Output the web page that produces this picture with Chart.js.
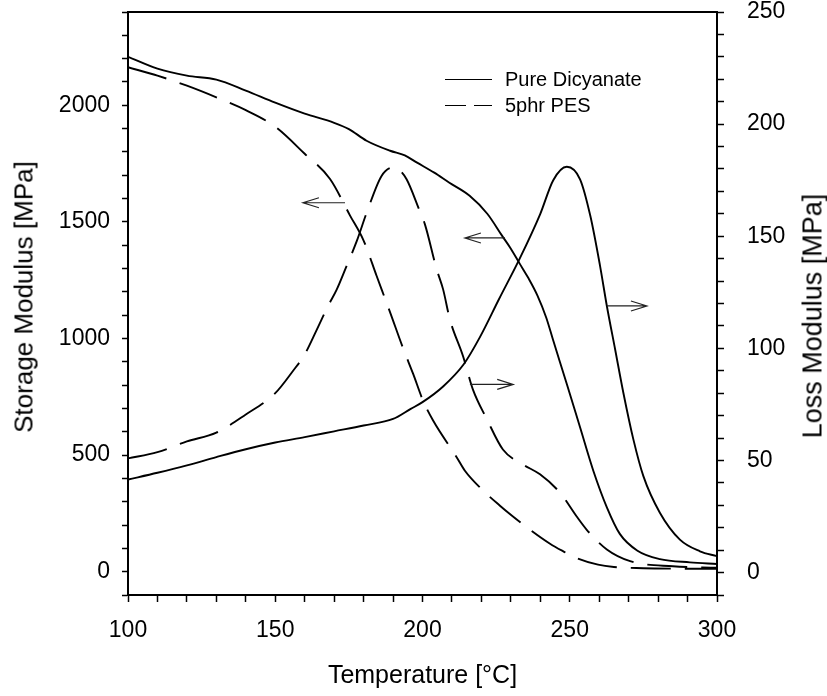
<!DOCTYPE html>
<html>
<head>
<meta charset="utf-8">
<script src="https://cdn.jsdelivr.net/npm/chart.js@4.4.1/dist/chart.umd.min.js"></script>
<style>
  body { margin: 0; background: #fff; }
  #wrap { position: relative; width: 827px; height: 696px; font-family: "Liberation Sans", Arial, sans-serif; color: #000; }
  #legend { position: absolute; left: 445px; top: 66px; font-size: 20px; }
  #legend .row { height: 26px; display: flex; align-items: center; }
  #legend .sw { width: 47px; margin-right: 13px; display: flex; justify-content: space-between; }
  #legend .sw span { display: block; border-top: 1.8px solid #000; }
  .ytitle {
    position: absolute; white-space: nowrap;
    transform: translate(-50%, -50%) rotate(-90deg);
  }
  #storageTitle { left: 24px; top: 297px; font-size: 26px; }
  #lossTitle { left: 813px; top: 316px; font-size: 27px; }
</style>
</head>
<body>
<div id="wrap">
  <canvas id="dmaChart" width="827" height="696"></canvas>
  <div id="legend">
    <div class="row"><div class="sw"><span style="width:47px"></span></div>Pure Dicyanate</div>
    <div class="row"><div class="sw"><span style="width:21px"></span><span style="width:18px"></span></div>5phr PES</div>
  </div>
  <div class="ytitle" id="storageTitle">Storage Modulus [MPa]</div>
  <div class="ytitle" id="lossTitle">Loss Modulus [MPa]</div>
</div>
<script>
// 저장탄성률 - 순수 디시아네이트 (왼쪽 축)
const pureStorageT = [100, 110, 120, 130, 140, 150, 160, 170, 175, 181, 189, 194, 198, 204, 209, 216, 222, 227, 230, 233, 236, 239, 242, 244.4, 249, 253.5, 258, 262.6, 267, 273, 280.6, 290.8, 300];
const pureStorage = [2208, 2157, 2127, 2110, 2063, 2011, 1964, 1925, 1898, 1848, 1805, 1785, 1755, 1711, 1669, 1612, 1535, 1441, 1385, 1321, 1258, 1185, 1090, 991, 805, 619, 433, 276, 162, 90, 54, 40, 33];

// 손실탄성률 - 순수 디시아네이트 (오른쪽 축)
const pureLossT = [100, 110, 120, 130, 140, 150, 160, 170, 180, 190, 196, 200, 207, 214, 219.5, 226, 233, 240, 244.4, 249, 253.5, 257, 260.3, 262.6, 265.4, 268.2, 271.6, 275, 280.6, 287.4, 294.2, 300];
const pureLoss = [41.5, 44.5, 47.8, 51.5, 55, 58, 60.4, 63, 65.6, 68.5, 73, 76, 83, 92.9, 105, 122, 140, 160, 175, 181, 175.4, 159, 136.7, 118.9, 99.6, 80.2, 59.4, 43, 26.7, 14.7, 9.5, 7.3];

// 저장탄성률 - 5phr PES (왼쪽 축)
const pesStorageT = [100, 110, 120, 130, 140, 150, 160, 168.6, 175.4, 180, 184.4, 189, 193.5, 196.8, 200.2, 203.6, 211.7, 214.4, 220, 226.3, 230.4, 236, 243.3, 247.4, 252, 259.6, 265, 275, 285, 300];
const pesStorage = [2163, 2127, 2084, 2034, 1979, 1908, 1792, 1684, 1527, 1420, 1269, 1112, 955, 849, 733, 648, 489, 433, 355, 283, 240, 185, 120, 90, 60, 30, 20, 15, 13, 12];

// 손실탄성률 - 5phr PES (오른쪽 축)
const pesLossT = [100, 110, 120, 130, 140, 150, 156, 160, 164, 167.9, 170.9, 174, 177.7, 181.1, 186.1, 190.1, 191.8, 194.6, 198.6, 200.8, 204.8, 207, 209.3, 213.8, 217.1, 221.9, 227.3, 234.1, 239.9, 246.7, 252.3, 255.7, 262.6, 270.5, 285, 300];
const pesLoss = [50.9, 53.7, 58.5, 62.4, 70.5, 80, 89.9, 97.3, 108, 118.8, 126.3, 136, 147.9, 160.7, 176.9, 180.7, 179.9, 175.4, 162.8, 155.4, 135.3, 126.3, 112.9, 96.4, 81.7, 68.3, 54.9, 48.2, 43.8, 35.6, 25.1, 19.2, 10.3, 5.1, 2.8, 2.2];

// 화살표 (시작 온도, 끝 온도, 값, 축)
const arrowFromT = [173.7, 228.0, 262.6, 216.1];
const arrowToT = [159.4, 214.4, 276.2, 230.8];
const arrowVal = [1582, 1431, 118.9, 83.9];
const arrowAxis = ['y', 'y', 'y1', 'y1'];

const FONT = '"Liberation Sans", Arial, sans-serif';
const toPoints = (xs, ys) => xs.map((x, i) => ({ x, y: ys[i] }));

const frameAndArrows = {
  id: 'frameAndArrows',
  afterDatasetsDraw(chart) {
    const { ctx, chartArea, scales } = chart;
    ctx.save();
    // 위쪽 테두리
    ctx.strokeStyle = '#000';
    ctx.lineWidth = 2;
    ctx.beginPath();
    ctx.moveTo(chartArea.left, chartArea.top);
    ctx.lineTo(chartArea.right, chartArea.top);
    ctx.stroke();
    // 화살표
    ctx.strokeStyle = '#222';
    ctx.lineWidth = 1.2;
    arrowFromT.forEach((t0, i) => {
      const x0 = scales.x.getPixelForValue(t0);
      const x1 = scales.x.getPixelForValue(arrowToT[i]);
      const y = scales[arrowAxis[i]].getPixelForValue(arrowVal[i]);
      const dir = x1 > x0 ? 1 : -1;
      ctx.beginPath();
      ctx.moveTo(x0, y);
      ctx.lineTo(x1, y);
      ctx.moveTo(x1 - dir * 16, y - 5);
      ctx.lineTo(x1, y);
      ctx.lineTo(x1 - dir * 16, y + 5);
      ctx.stroke();
    });
    ctx.restore();
  }
};

const lineStyle = (dash, axis) => ({
  borderColor: '#000',
  borderWidth: 1.9,
  borderDash: dash,
  pointRadius: 0,
  fill: false,
  cubicInterpolationMode: 'monotone',
  yAxisID: axis
});

const axisFont = { family: FONT, size: 23 };
const titleFont = { family: FONT, size: 25 };

new Chart(document.getElementById('dmaChart'), {
  type: 'line',
  data: {
    datasets: [
      { label: 'Pure Dicyanate', data: toPoints(pureStorageT, pureStorage), ...lineStyle([], 'y') },
      { label: 'Pure Dicyanate loss', data: toPoints(pureLossT, pureLoss), ...lineStyle([], 'y1') },
      { label: '5phr PES', data: toPoints(pesStorageT, pesStorage), ...lineStyle([40, 14], 'y') },
      { label: '5phr PES loss', data: toPoints(pesLossT, pesLoss), ...lineStyle([40, 14], 'y1') }
    ]
  },
  options: {
    responsive: false,
    animation: false,
    layout: { padding: { top: 12, left: 0, right: 0, bottom: 0 } },
    plugins: {
      legend: { display: false },
      tooltip: { enabled: false }
    },
    scales: {
      x: {
        type: 'linear',
        min: 100, max: 300,
        afterFit: s => { s.height = 101; s.paddingLeft = 0; s.paddingRight = 0; },
        ticks: {
          stepSize: 10, autoSkip: false, maxRotation: 0,
          callback: v => (v % 50 === 0 ? v : ''),
          font: axisFont, color: '#000', padding: 15
        },
        grid: { drawOnChartArea: false, tickLength: 7, tickColor: '#000', tickWidth: 1.5 },
        border: { display: true, color: '#000', width: 2 },
        title: { display: true, text: 'Temperature [°C]', font: titleFont, color: '#000', padding: { top: 0, bottom: 5 } }
      },
      y: {
        position: 'left',
        min: -100, max: 2400,
        afterFit: s => { s.width = 128; s.paddingTop = 0; s.paddingBottom = 0; },
        ticks: {
          stepSize: 100, autoSkip: false,
          callback: v => (v % 500 === 0 ? v : ''),
          font: axisFont, color: '#000', padding: 12
        },
        grid: { drawOnChartArea: false, tickLength: 6, tickColor: '#000', tickWidth: 1.5 },
        border: { display: true, color: '#000', width: 2 }
      },
      y1: {
        position: 'right',
        min: -10, max: 250,
        afterFit: s => { s.width = 110; s.paddingTop = 0; s.paddingBottom = 0; },
        ticks: {
          stepSize: 10, autoSkip: false,
          callback: v => (v % 50 === 0 ? v : ''),
          font: axisFont, color: '#000', padding: 23
        },
        grid: { drawOnChartArea: false, tickLength: 7, tickColor: '#000', tickWidth: 1.5 },
        border: { display: true, color: '#000', width: 2 }
      }
    }
  },
  plugins: [frameAndArrows]
});
</script>
</body>
</html>
